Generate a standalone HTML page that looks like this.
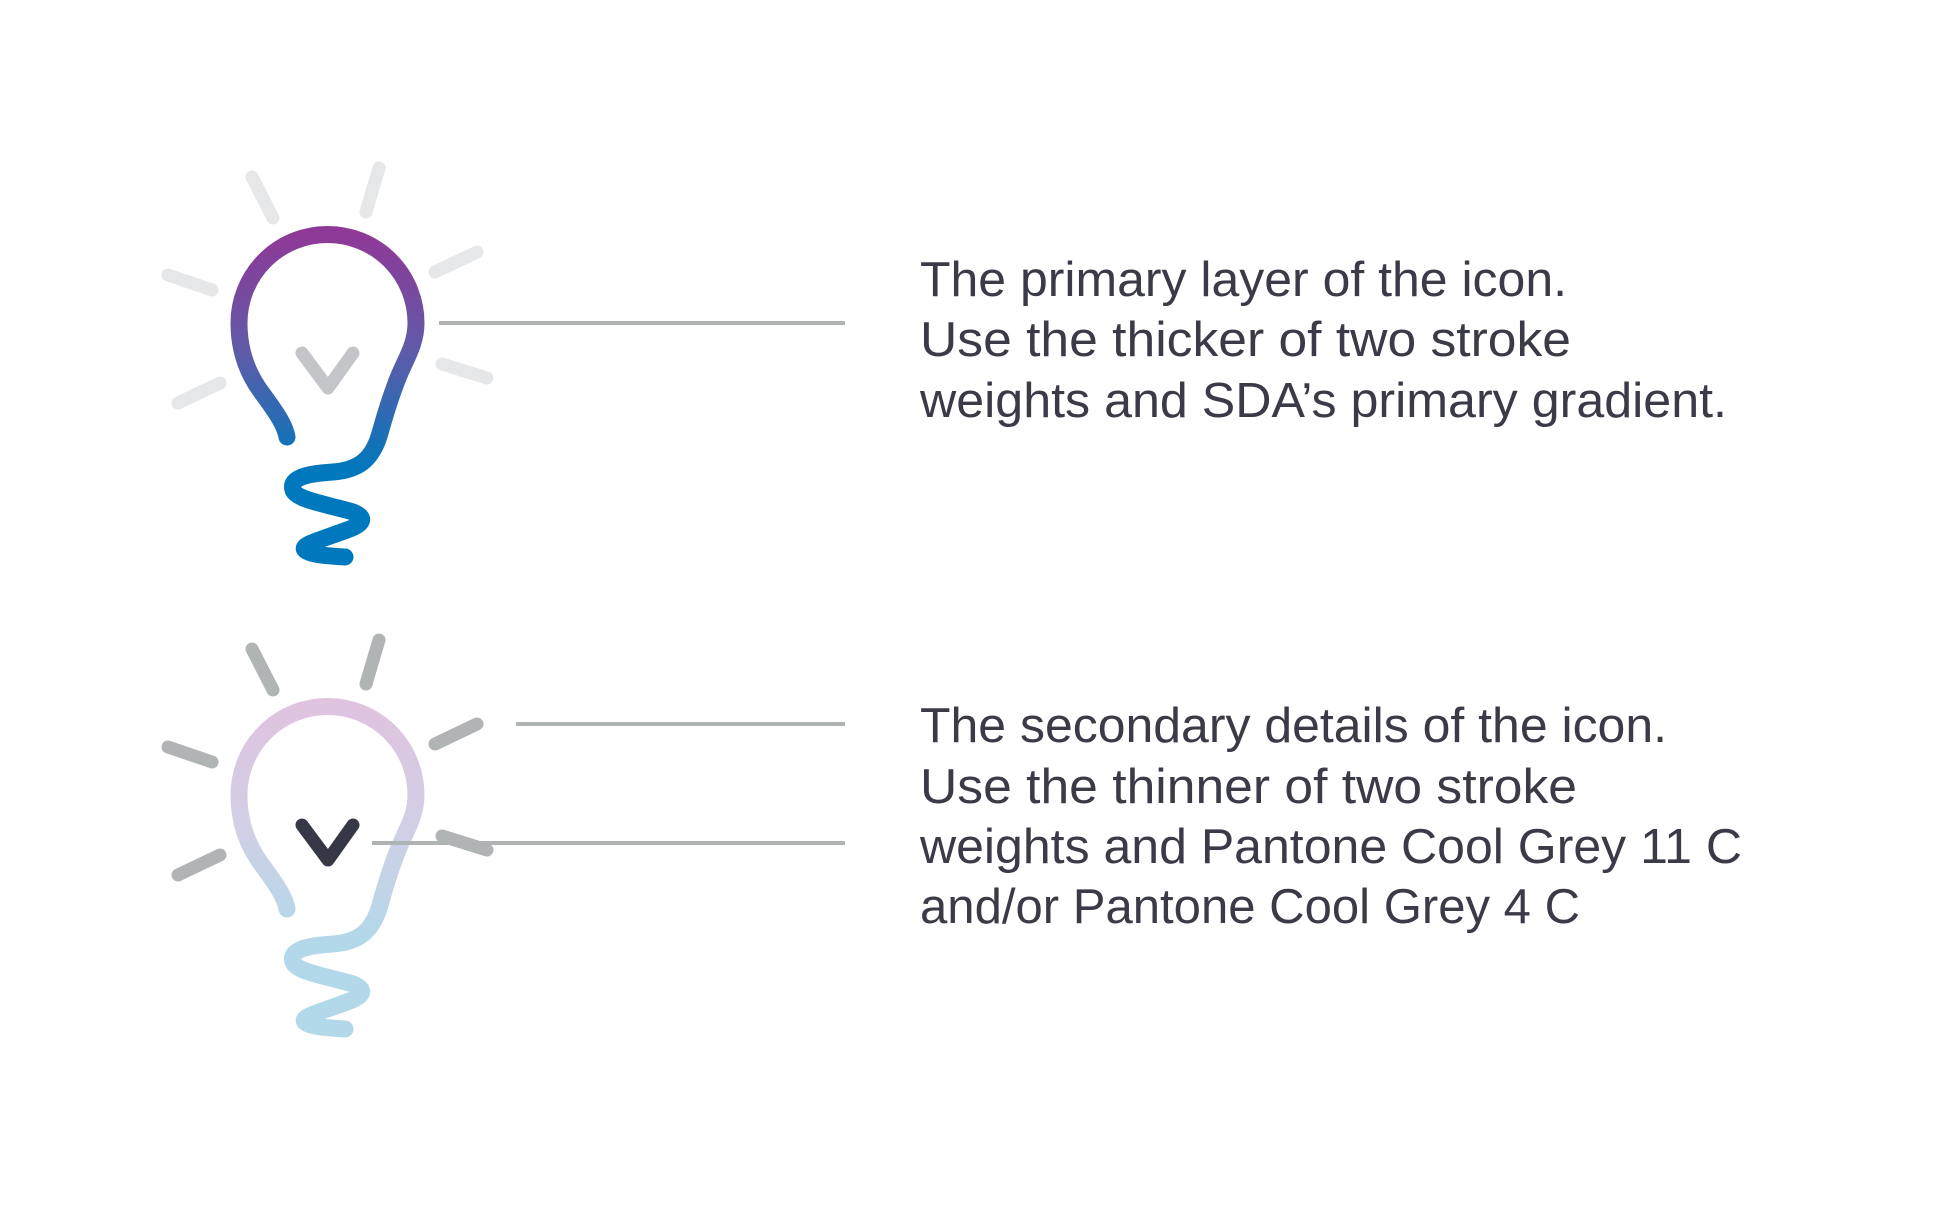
<!DOCTYPE html>
<html><head><meta charset="utf-8"><style>
html,body{margin:0;padding:0;background:#fff;}
svg{display:block;}
text{font-family:"Liberation Sans",sans-serif;font-size:49px;fill:#3a3b46;}
</style></head><body>
<svg width="1944" height="1207" viewBox="0 0 1944 1207">
<defs>
<linearGradient id="g1" gradientUnits="userSpaceOnUse" x1="0" y1="235" x2="0" y2="470">
<stop offset="0" stop-color="#8e3996"/><stop offset="0.5" stop-color="#5f5ba8"/><stop offset="1" stop-color="#0078bd"/></linearGradient>
<linearGradient id="g2" gradientUnits="userSpaceOnUse" x1="0" y1="707" x2="0" y2="942">
<stop offset="0" stop-color="#dfc3df"/><stop offset="0.5" stop-color="#d1cfe6"/><stop offset="1" stop-color="#b3d8ea"/></linearGradient>
</defs>

<g fill="none" stroke-linecap="round" stroke-linejoin="round">
<g stroke="#e6e7e8" stroke-width="13">
<line x1="252" y1="177" x2="273" y2="218"/><line x1="379" y1="168" x2="366" y2="212"/>
<line x1="168" y1="275" x2="212" y2="290"/><line x1="477" y1="252" x2="435" y2="272"/>
<line x1="178" y1="403" x2="220" y2="383"/><line x1="442" y1="364" x2="487" y2="378"/>
</g>
<path stroke="url(#g1)" stroke-width="17" d="M287,437 C285,425 276,412 262,393 C247,373 239,350 239,323 A88.5,88.5 0 0 1 416,323 C416,345 405,360 398,378 C390,398 385,415 380,433 C373,458 360,470 333,472 C300,474 290,480 293,490 C296,500 330,505 353,512 C368,518 362,525 347,530 C320,540 300,545 305,550 C310,555 330,556 345,557"/>
<polyline stroke="#c4c5c8" stroke-width="13" points="302,353 328,388 353,353"/>
</g>
<line x1="439" y1="323" x2="845" y2="323" stroke="#b0b3b3" stroke-width="4"/>

<g transform="translate(0,472)" fill="none" stroke-linecap="round" stroke-linejoin="round">
<g stroke="#b1b4b5" stroke-width="13">
<line x1="252" y1="177" x2="273" y2="218"/><line x1="379" y1="168" x2="366" y2="212"/>
<line x1="168" y1="275" x2="212" y2="290"/><line x1="477" y1="252" x2="435" y2="272"/>
<line x1="178" y1="403" x2="220" y2="383"/><line x1="442" y1="364" x2="487" y2="378"/>
</g>
<path stroke="url(#g2)" stroke-width="17" transform="translate(0,-472)" d="M287,909 C285,897 276,884 262,865 C247,845 239,822 239,795 A88.5,88.5 0 0 1 416,795 C416,817 405,832 398,850 C390,870 385,887 380,905 C373,930 360,942 333,944 C300,946 290,952 293,962 C296,972 330,977 353,984 C368,990 362,997 347,1002 C320,1012 300,1017 305,1022 C310,1027 330,1028 345,1029"/>
<polyline stroke="#363845" stroke-width="13" points="302,353 328,388 353,353"/>
</g>
<line x1="516" y1="724" x2="845" y2="724" stroke="#b0b3b3" stroke-width="4"/>
<line x1="372" y1="843" x2="845" y2="843" stroke="#b0b3b3" stroke-width="4"/>

<g>
<text x="920" y="296" textLength="647" lengthAdjust="spacingAndGlyphs">The primary layer of the icon.</text>
<text x="920" y="356" textLength="651" lengthAdjust="spacingAndGlyphs">Use the thicker of two stroke</text>
<text x="920" y="417" textLength="807" lengthAdjust="spacingAndGlyphs">weights and SDA’s primary gradient.</text>
</g>
<g>
<text x="920" y="742" textLength="747" lengthAdjust="spacingAndGlyphs">The secondary details of the icon.</text>
<text x="920" y="803" textLength="657" lengthAdjust="spacingAndGlyphs">Use the thinner of two stroke</text>
<text x="920" y="863" textLength="822" lengthAdjust="spacingAndGlyphs">weights and Pantone Cool Grey 11 C</text>
<text x="920" y="923" textLength="660" lengthAdjust="spacingAndGlyphs">and/or Pantone Cool Grey 4 C</text>
</g>
</svg>
</body></html>
